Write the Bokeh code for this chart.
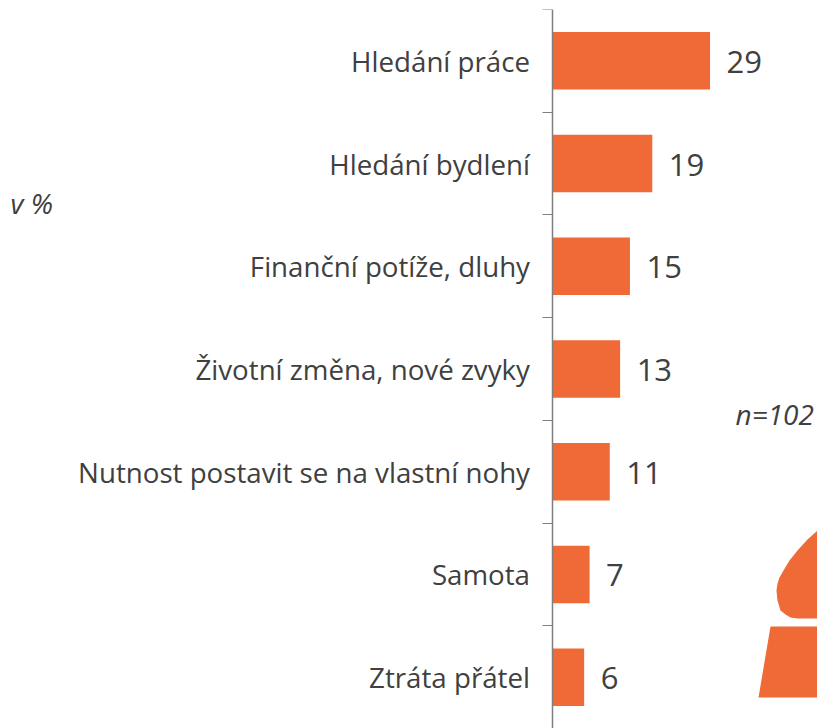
from bokeh.plotting import figure
from bokeh.models import Range1d, FixedTicker, LinearAxis, ColumnDataSource
from bokeh.core.properties import value
from bokeh.embed import file_html
from bokeh.resources import INLINE

categories = ["Hledání práce", "Hledání bydlení", "Finanční potíže, dluhy",
              "Životní změna, nové zvyky", "Nutnost postavit se na vlastní nohy",
              "Samota", "Ztráta přátel"]
bar_values = [29, 18.4, 14.3, 12.5, 10.6, 6.9, 5.9]
value_labels = ["29", "19", "15", "13", "11", "7", "6"]
notes = ["v %", "n=102"]

# decorative figure cut off by the right edge, and the two notes, in page pixels
body_x = [758, 770, 817, 817]
body_y = [697, 626, 626, 697]
head_x = [817, 807, 797, 789, 783, 779, 777, 776, 777, 780, 785, 790, 797, 805, 817]
head_y = [530, 539, 550, 560, 570, 577, 583, 590, 600, 610, 614, 617, 618, 618, 618]
notes_x = [10, 735]
notes_y = [202, 413]
notes_size = ["28px", "28px"]

W, H = 817, 728
FONT = "Open Sans"
ORANGE = "#F06A37"
TEXT = "#404040"
AXIS_PX = 551.5
TOP_PX = 9
SCALE = 5.45

n = len(categories)
centres = [i + 0.5 for i in range(n)]
bounds = list(range(n + 1))

p = figure(width=W, height=H, output_backend="svg", toolbar_location=None,
           x_range=Range1d(-AXIS_PX / SCALE, (817 - AXIS_PX) / SCALE), y_range=Range1d(n, 0),
           x_axis_location=None, y_axis_location=None,
           min_border_left=0, min_border_right=0,
           min_border_top=TOP_PX, min_border_bottom=0,
           outline_line_color=None, background_fill_color="white")
p.grid.visible = False

axis = LinearAxis(ticker=FixedTicker(ticks=centres, minor_ticks=bounds),
                  fixed_location=0,
                  major_label_overrides={c: t for c, t in zip(centres, categories)},
                  major_tick_out=0, major_tick_in=0,
                  minor_tick_out=10, minor_tick_in=0,
                  minor_tick_line_color="#7f7f7f", minor_tick_line_width=1,
                  axis_line_color="#7f7f7f", axis_line_width=1.5,
                  major_label_text_font=FONT, major_label_text_font_size="27.7px",
                  major_label_text_color=TEXT, major_label_standoff=12)
p.add_layout(axis, "left")

src = ColumnDataSource(dict(y=centres, v=bar_values, t=value_labels))
p.hbar(y="y", left=0, right="v", height=0.56, source=src,
       fill_color=ORANGE, line_color=None)
p.text(x="v", y="y", text="t", source=src, x_offset=16.5, y_offset=1,
       text_font=value(FONT), text_font_size="31px", text_color=TEXT,
       text_baseline="middle", text_align="left")

p.extra_x_ranges["px"] = Range1d(0, 817)
p.extra_y_ranges["px"] = Range1d(728, TOP_PX)
p.patch(body_x, body_y, x_range_name="px", y_range_name="px",
        fill_color=ORANGE, line_color=None)
p.patch(head_x, head_y, x_range_name="px", y_range_name="px",
        fill_color=ORANGE, line_color=None)

note_src = ColumnDataSource(dict(x=notes_x, y=notes_y, t=notes, s=notes_size))
p.text(x="x", y="y", text="t", source=note_src, x_range_name="px", y_range_name="px",
       text_font=value(FONT), text_font_size="s", text_font_style="italic",
       text_color=TEXT, text_baseline="middle", text_align="left")

open("out.html", "w").write(file_html(p, INLINE))
